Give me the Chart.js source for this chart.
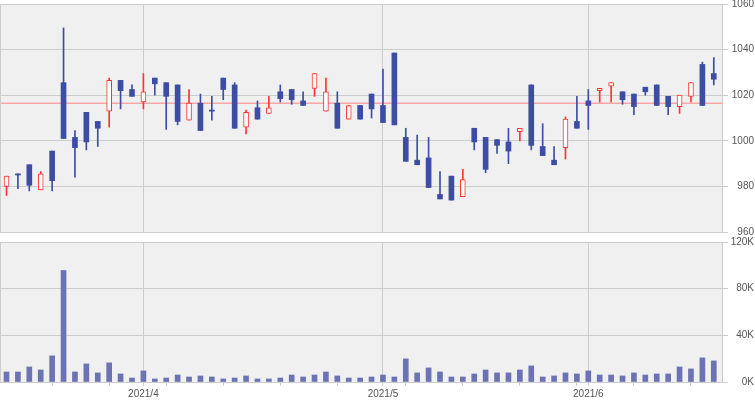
<!DOCTYPE html>
<html>
<head>
<meta charset="utf-8">
<script src="https://cdn.jsdelivr.net/npm/chart.js@4"></script>
<style>
  html, body { margin: 0; padding: 0; background: #fff; }
  #wrap { position: relative; width: 755px; height: 400px; overflow: hidden; }
  #grafico-preco { position: absolute; left: 0; top: -10px; }
  #grafico-volume { position: absolute; left: 0; top: 232px; }
</style>
</head>
<body>
<div id="wrap">
  <canvas id="grafico-preco" width="755" height="250"></canvas>
  <canvas id="grafico-volume" width="755" height="168"></canvas>
</div>
<script>
// daily prices, 2021/3 .. 2021/6
const opens  = [980, 985.5, 989.5, 978.5, 995.5, 1025.5, 1001.5, 1012.5, 1008.5, 1013, 1026.5, 1022.5, 1017, 1027.5, 1025.5, 1024.5, 1009, 1016.5, 1013.5, 1027.5, 1024.5, 1006, 1014.5, 1012, 1021.5, 1022.5, 1017.5, 1023, 1013, 1016.5, 1009.5, 1015.5, 1020.5, 1015.5, 1038.5, 1001.5, 991.5, 992.5, 976.5, 984.5, 975.5, 1005.5, 1001.5, 1000.5, 999.5, 1004, 1024.5, 997.5, 991.5, 997, 1008.5, 1017.5, 1022, 1024, 1021.5, 1020.5, 1023.5, 1024.5, 1019.5, 1015, 1019.5, 1033.5, 1029.5];
const highs  = [984.5, 985.5, 989.5, 986.5, 995.5, 1049.5, 1004.5, 1012.5, 1008.5, 1027.5, 1026.5, 1024.5, 1029.5, 1027.5, 1025.5, 1024.5, 1022.5, 1020.5, 1019.5, 1027.5, 1025.5, 1013.5, 1017.5, 1019.5, 1024.5, 1022.5, 1021.5, 1029.5, 1027.5, 1021.5, 1015.5, 1015.5, 1020.5, 1031.5, 1038.5, 1005.5, 1002.5, 1001.5, 986.5, 984.5, 987.5, 1005.5, 1001.5, 1000.5, 1005.5, 1005.5, 1024.5, 1007.5, 997.5, 1010.5, 1019.5, 1022.5, 1023, 1025.5, 1021.5, 1020.5, 1023.5, 1024.5, 1019.5, 1020, 1025.5, 1034.5, 1036.5];
const lows   = [976, 979, 978, 978.5, 978, 1001, 984, 996, 997.5, 1006, 1014, 1019.5, 1014, 1020, 1005, 1007, 1009, 1004.5, 1009, 1018, 1005.5, 1003, 1009.5, 1012, 1017, 1016, 1015.5, 1019.5, 1013, 1005.5, 1009.5, 1009.5, 1010, 1008, 1007, 991, 989.5, 979.5, 974.5, 974, 975.5, 996, 986, 994.5, 990, 1000, 996, 993.5, 989.5, 992, 1005.5, 1005, 1017, 1017, 1016, 1011.5, 1020, 1015.5, 1011.5, 1012, 1017, 1015.5, 1024.5];
const closes = [984.5, 985, 980.5, 985.5, 982.5, 1001, 997, 999.5, 1005.5, 1026.5, 1022, 1019.5, 1021.5, 1025, 1019.5, 1008.5, 1016.5, 1004.5, 1013, 1022.5, 1005.5, 1012.5, 1009.5, 1014.5, 1018.5, 1018, 1015.5, 1029.5, 1021.5, 1005.5, 1015.5, 1009.5, 1014, 1008, 1007, 991, 989.5, 979.5, 974.5, 974, 983, 999.5, 987.5, 998, 995.5, 1005.5, 998, 993.5, 989.5, 1009.5, 1005.5, 1015.5, 1023, 1025.5, 1018, 1015, 1021.5, 1015.5, 1015, 1020, 1025.5, 1015.5, 1027];
const volumes = [8600, 8600, 12900, 10300, 22400, 95600, 8600, 15500, 7800, 16400, 6900, 3400, 9500, 2600, 3400, 6000, 4300, 5200, 4300, 2600, 3400, 5200, 2600, 2600, 3400, 6000, 4300, 6000, 8600, 5200, 3400, 3400, 4300, 6000, 4300, 19800, 7800, 12100, 8600, 4300, 4300, 6900, 10300, 7800, 7800, 10300, 13800, 4300, 5200, 7800, 6900, 9500, 6000, 6000, 5200, 7800, 6000, 6900, 6900, 12900, 11200, 20700, 18100];
const refPrice = 1016.5;

// x axis ticks (trading-day index)
const monthTicks = [12, 33, 51];
const monthLabels = ['2021/4', '2021/5', '2021/6'];
const weekTicks = [4, 9, 14, 19, 24, 29, 35, 40, 45, 50, 55, 60];
const priceTicks = [960, 980, 1000, 1020, 1040, 1060];
const volumeTicks = [0, 40000, 80000, 120000];
const volumeLabels = ['0K', '40K', '80K', '120K'];

document.addEventListener("DOMContentLoaded", function () {
    const azul = '#3d4da3';
    const vermelho = '#ff3333';
    const grade = '#cccccc';
    const fonte = { family: 'Liberation Sans', size: 10 };

    // fundo cinza + borda esquerda do painel
    const painel = {
        id: 'painel',
        beforeDraw(chart) {
            const { ctx, chartArea: a } = chart;
            ctx.save();
            ctx.fillStyle = '#f0f0f0';
            ctx.fillRect(a.left, a.top, a.width, a.height);
            ctx.restore();
        },
        afterDraw(chart) {
            const { ctx, chartArea: a } = chart;
            ctx.save();
            ctx.strokeStyle = grade;
            ctx.lineWidth = 1;
            ctx.beginPath();
            ctx.moveTo(Math.round(a.left) + 0.5, a.top);
            ctx.lineTo(Math.round(a.left) + 0.5, a.bottom);
            ctx.stroke();
            ctx.restore();
        }
    };

    const xMin = -0.57, xMax = 62.72;
    const sobe = opens.map((o, i) => closes[i] >= o);

    const corpos = opens.map((o, i) => ({ x: i, y: [Math.min(o, closes[i]), Math.max(o, closes[i])] }));
    const pavios = opens.map((o, i) => ({ x: i, y: [lows[i], highs[i]] }));

    // --- Gráfico de preço (velas) ---
    new Chart(document.getElementById('grafico-preco').getContext('2d'), {
        type: 'bar',
        data: {
            datasets: [{
                data: corpos,
                backgroundColor: sobe.map(s => s ? '#ffffff' : azul),
                borderColor: sobe.map(s => s ? vermelho : azul),
                borderWidth: sobe.map(s => s ? 1 : 0),
                borderSkipped: false,
                barThickness: 5,
                minBarLength: 1,
                grouped: false
            }, {
                data: pavios,
                backgroundColor: sobe.map(s => s ? vermelho : azul),
                borderWidth: 0,
                barThickness: 1,
                grouped: false
            }, {
                type: 'line',
                data: [{ x: xMin - 1, y: refPrice }, { x: xMax + 1, y: refPrice }],
                borderColor: '#ff8080',
                borderWidth: 1,
                pointRadius: 0
            }]
        },
        options: {
            responsive: false,
            animation: false,
            layout: { padding: { top: 14, left: 0, right: 1, bottom: 0 } },
            plugins: { legend: { display: false }, tooltip: { enabled: false } },
            scales: {
                x: {
                    type: 'linear', min: xMin, max: xMax, offset: false,
                    afterBuildTicks: s => { s.ticks = monthTicks.map(v => ({ value: v })); },
                    afterFit: s => { s.height = 7; },
                    ticks: { display: false },
                    grid: { color: grade, drawTicks: false, offset: false },
                    border: { color: grade }
                },
                y: {
                    position: 'right', min: 960, max: 1060,
                    afterBuildTicks: s => { s.ticks = priceTicks.map(v => ({ value: v })); },
                    afterFit: s => { s.width = 32; },
                    ticks: { color: '#555', font: fonte, crossAlign: 'far', padding: 2, callback: v => String(v) },
                    grid: { color: grade, tickLength: 6 },
                    border: { color: grade }
                }
            }
        },
        plugins: [painel]
    });

    // --- Gráfico de volume (barras) ---
    const xTicks = weekTicks.concat(monthTicks).sort((a, b) => a - b);
    new Chart(document.getElementById('grafico-volume').getContext('2d'), {
        type: 'bar',
        data: {
            datasets: [{
                data: volumes.map((v, i) => ({ x: i, y: v })),
                backgroundColor: '#6b73b3',
                barThickness: 5
            }]
        },
        options: {
            responsive: false,
            animation: false,
            layout: { padding: { top: 10, left: 0, right: 1, bottom: 0 } },
            plugins: { legend: { display: false }, tooltip: { enabled: false } },
            scales: {
                x: {
                    type: 'linear', min: xMin, max: xMax, offset: false,
                    afterBuildTicks: s => { s.ticks = xTicks.map(v => ({ value: v })); },
                    afterFit: s => { s.height = 18; },
                    ticks: {
                        autoSkip: false, maxRotation: 0, color: '#555', font: fonte, padding: 2,
                        callback: v => {
                            const k = monthTicks.indexOf(v);
                            return k >= 0 ? monthLabels[k] : '';
                        }
                    },
                    grid: {
                        offset: false,
                        color: c => (c.tick && monthTicks.includes(c.tick.value)) ? grade : 'rgba(0,0,0,0)',
                        tickColor: grade,
                        tickLength: 4
                    },
                    border: { color: grade }
                },
                y: {
                    position: 'right', min: 0, max: 120000,
                    afterBuildTicks: s => { s.ticks = volumeTicks.map(v => ({ value: v })); },
                    afterFit: s => { s.width = 32; },
                    ticks: {
                        color: '#555', font: fonte, crossAlign: 'far', padding: 2,
                        callback: v => volumeLabels[volumeTicks.indexOf(v)]
                    },
                    grid: { color: grade, tickLength: 6 },
                    border: { color: grade }
                }
            }
        },
        plugins: [painel]
    });
});
</script>
</body>
</html>
